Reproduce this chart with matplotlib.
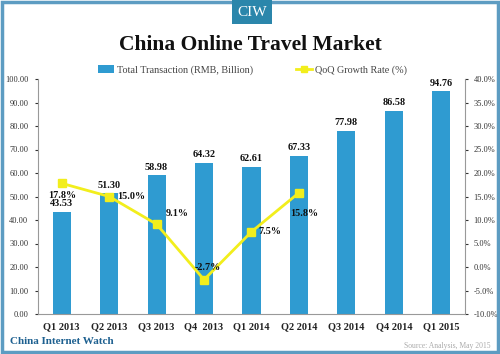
import numpy as np
import matplotlib
matplotlib.use("Agg")
import matplotlib.pyplot as plt
from matplotlib.patches import Rectangle
from matplotlib.lines import Line2D

# data
quarters = ["Q1 2013", "Q2 2013", "Q3 2013", "Q4  2013", "Q1 2014",
            "Q2 2014", "Q3 2014", "Q4 2014", "Q1 2015"]
transaction = [43.53, 51.30, 58.98, 64.32, 62.61, 67.33, 77.98, 86.58, 94.76]
growth = [17.8, 15.0, 9.1, -2.7, 7.5, 15.8]

bar_col = "#2f9bd1"
line_col = "#f2ee1c"
serif = "Liberation Serif"

fig = plt.figure(figsize=(5, 3.54), dpi=100)
fig.patch.set_facecolor("white")

# outer frame
fig.patches.append(Rectangle((0.004, 0.005), 0.992, 0.99, transform=fig.transFigure,
                             fill=False, ec="#5d9cc2", lw=2.5))
# CIW badge
fig.patches.append(Rectangle((232/500, 1-24/354), 40/500, 24/354, transform=fig.transFigure,
                             fc="#2b86ab", ec="none"))
fig.text(252/500, 1-12/354, "CIW", color="white", family=serif, fontsize=11,
         ha="center", va="center")

fig.text(0.5, 1-45/354, "China Online Travel Market", family=serif, fontweight="bold",
         fontsize=15.5, ha="center", va="center", color="#111111")

ax = fig.add_axes([38/500, 1-314/354, 427/500, 235/354])
x = np.arange(len(quarters))
ax.bar(x, transaction, width=0.38, color=bar_col, zorder=2)
ax.set_xlim(-0.5, len(quarters)-0.5)
ax.set_ylim(0, 100)
ax.set_yticks(np.arange(0, 101, 10))
ax.set_yticklabels([f"{v:.2f}" for v in np.arange(0, 101, 10)])
ax.set_xticks(x)
ax.set_xticklabels(quarters, family=serif, fontweight="bold", fontsize=7.5, color="#222222")
ax.tick_params(axis="x", length=0, pad=6)
ax.tick_params(axis="y", length=2, labelsize=6, colors="#333333", pad=5)
for lab in ax.get_yticklabels():
    lab.set_family(serif)
for s in ["top", "right"]:
    ax.spines[s].set_visible(False)
ax.spines["left"].set_color("#999999")
ax.spines["bottom"].set_color("#999999")

for xi, v in zip(x, transaction):
    ax.text(xi, v + 1.5, f"{v:.2f}", ha="center", va="bottom", family=serif,
            fontweight="bold", fontsize=7.3, color="#111111", zorder=5)

ax2 = ax.twinx()
ax2.set_ylim(-10, 40)
ax2.set_yticks(np.arange(-10, 41, 5))
ax2.set_yticklabels([f"{v:.1f}%" for v in np.arange(-10, 41, 5)])
ax2.tick_params(axis="y", length=2, labelsize=6, colors="#333333", pad=4)
for lab in ax2.get_yticklabels():
    lab.set_family(serif)
for s in ["top", "left", "bottom"]:
    ax2.spines[s].set_visible(False)
ax2.spines["right"].set_color("#999999")
gx = x[:len(growth)]
ax2.plot(gx, growth, color=line_col, lw=2, marker="s", ms=5.5, zorder=3)

offsets = [(0, -8.5), (16, 0), (15, 8), (3, 8.5), (13, 0), (4, -15)]
for xi, g, off in zip(gx, growth, offsets):
    ax2.annotate(f"{g:.1f}%", (xi, g), xytext=off, textcoords="offset points",
                 ha="center", va="center", family=serif, fontweight="bold",
                 fontsize=7.3, color="#111111")

# legend
handles = [Rectangle((0, 0), 1, 1, fc=bar_col, ec="none"),
           Line2D([], [], color=line_col, lw=2, marker="s", ms=5)]
fig.legend(handles, ["Total Transaction (RMB, Billion)", "QoQ Growth Rate (%)"],
           loc="center", bbox_to_anchor=(0.505, 1-70/354), ncol=2, frameon=False,
           prop={"family": serif, "size": 7.3}, handlelength=1.6, handletextpad=0.3,
           columnspacing=4.2, labelcolor="#444444")

fig.text(10/500, 1-342/354, "China Internet Watch", family=serif, fontweight="bold",
         fontsize=8, color="#1d6090", va="center")
fig.text(490/500, 1-346/354, "Source: Analysis, May 2015", family=serif,
         fontsize=5.5, color="#aaaaaa", va="center", ha="right")

fig.savefig("out.png", dpi=100)
